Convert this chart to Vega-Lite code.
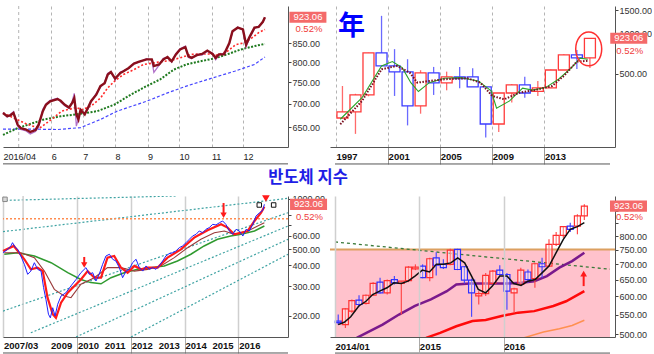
{
"$schema":"https://vega.github.io/schema/vega-lite/v6.json",
"background":"white",
"padding":{"left":-2,"top":5,"right":0,"bottom":0},
"config":{"view":{"stroke":null},"axis":{"labelFont":"Liberation Sans","labelOverlap":false}},
"datasets":{
"tl":[{"d":"2016-04-16","p":680,"q":681},{"d":"2016-04-20","p":673,"q":671},{"d":"2016-04-23","p":675,"q":677},{"d":"2016-04-26","p":680,"q":683},{"d":"2016-04-30","p":655,"q":652},{"d":"2016-05-03","p":648,"q":645},{"d":"2016-05-08","p":645,"q":642},{"d":"2016-05-12","p":640,"q":636},{"d":"2016-05-17","p":644,"q":641},{"d":"2016-05-20","p":655,"q":650},{"d":"2016-05-24","p":684,"q":688},{"d":"2016-05-27","p":698,"q":700},{"d":"2016-05-31","p":706,"q":708},{"d":"2016-06-07","p":711,"q":713},{"d":"2016-06-10","p":707,"q":705},{"d":"2016-06-14","p":698,"q":696},{"d":"2016-06-18","p":692,"q":690},{"d":"2016-06-21","p":702,"q":705},{"d":"2016-06-23","p":713,"q":724},{"d":"2016-06-25","p":677,"q":652},{"d":"2016-06-27","p":666,"q":668},{"d":"2016-06-29","p":687,"q":684},{"d":"2016-07-03","p":677,"q":680},{"d":"2016-07-06","p":691,"q":688},{"d":"2016-07-09","p":706,"q":704},{"d":"2016-07-14","p":721,"q":724},{"d":"2016-07-18","p":741,"q":738},{"d":"2016-07-22","p":748,"q":750},{"d":"2016-07-25","p":769,"q":772},{"d":"2016-07-28","p":775,"q":776},{"d":"2016-08-01","p":759,"q":756},{"d":"2016-08-06","p":773,"q":775},{"d":"2016-08-09","p":777,"q":778},{"d":"2016-08-14","p":785,"q":784},{"d":"2016-08-19","p":796,"q":797},{"d":"2016-08-24","p":801,"q":800},{"d":"2016-08-31","p":807,"q":809},{"d":"2016-09-05","p":807,"q":805},{"d":"2016-09-07","p":790,"q":774},{"d":"2016-09-12","p":794,"q":792},{"d":"2016-09-16","p":807,"q":810},{"d":"2016-09-20","p":813,"q":812},{"d":"2016-09-24","p":802,"q":800},{"d":"2016-09-28","p":820,"q":822},{"d":"2016-10-02","p":833,"q":835},{"d":"2016-10-07","p":839,"q":842},{"d":"2016-10-10","p":815,"q":812},{"d":"2016-10-13","p":811,"q":809},{"d":"2016-10-18","p":818,"q":820},{"d":"2016-10-23","p":821,"q":818},{"d":"2016-10-28","p":830,"q":828},{"d":"2016-11-02","p":821,"q":823},{"d":"2016-11-05","p":811,"q":806},{"d":"2016-11-08","p":820,"q":818},{"d":"2016-11-13","p":820,"q":823},{"d":"2016-11-18","p":850,"q":848},{"d":"2016-11-21","p":883,"q":880},{"d":"2016-11-26","p":893,"q":895},{"d":"2016-12-01","p":888,"q":886},{"d":"2016-12-04","p":846,"q":840},{"d":"2016-12-07","p":865,"q":862},{"d":"2016-12-12","p":893,"q":890},{"d":"2016-12-16","p":895,"q":898},{"d":"2016-12-20","p":910,"q":908},{"d":"2016-12-22","p":923.06,"q":923.06}],
"tl_r":[{"d":"2016-04-16","v":680},{"d":"2016-05-10","v":655},{"d":"2016-05-21","v":648},{"d":"2016-06-03","v":669},{"d":"2016-06-11","v":684},{"d":"2016-06-25","v":692},{"d":"2016-06-30","v":687},{"d":"2016-07-09","v":695},{"d":"2016-07-18","v":713},{"d":"2016-07-25","v":737},{"d":"2016-08-01","v":754},{"d":"2016-08-09","v":769},{"d":"2016-08-19","v":781},{"d":"2016-08-28","v":794},{"d":"2016-09-07","v":798},{"d":"2016-09-16","v":802},{"d":"2016-09-23","v":804},{"d":"2016-10-02","v":811},{"d":"2016-10-12","v":820},{"d":"2016-10-21","v":821},{"d":"2016-10-31","v":821},{"d":"2016-11-06","v":818},{"d":"2016-11-16","v":828},{"d":"2016-11-24","v":846},{"d":"2016-12-01","v":850},{"d":"2016-12-09","v":863},{"d":"2016-12-16","v":879},{"d":"2016-12-22","v":888}],
"tl_g":[{"d":"2016-04-16","v":634},{"d":"2016-04-30","v":648},{"d":"2016-05-25","v":666},{"d":"2016-06-10","v":673},{"d":"2016-06-25","v":677},{"d":"2016-07-15","v":684},{"d":"2016-07-31","v":698},{"d":"2016-08-16","v":721},{"d":"2016-08-31","v":741},{"d":"2016-09-13","v":757},{"d":"2016-09-26","v":781},{"d":"2016-10-08","v":794},{"d":"2016-10-21","v":802},{"d":"2016-11-03","v":809},{"d":"2016-11-16","v":820},{"d":"2016-11-29","v":833},{"d":"2016-12-12","v":842},{"d":"2016-12-22","v":848}],
"tl_b":[{"d":"2016-04-16","v":646},{"d":"2016-05-10","v":646},{"d":"2016-06-07","v":645},{"d":"2016-06-29","v":649},{"d":"2016-07-18","v":666},{"d":"2016-08-03","v":684},{"d":"2016-08-31","v":706},{"d":"2016-09-20","v":725},{"d":"2016-10-08","v":741},{"d":"2016-10-31","v":759},{"d":"2016-11-23","v":777},{"d":"2016-12-12","v":794},{"d":"2016-12-22","v":813}],
"tl_gr":[{"d":"2016-05-01"}],
"tr":[{"d":"1997-07-01","o":234,"h":406,"l":230,"c":260},{"d":"1998-07-01","o":260,"h":355,"l":178,"c":348},{"d":"1999-07-01","o":348,"h":720,"l":340,"c":718},{"d":"2000-07-01","o":718,"h":1359,"l":574,"c":574},{"d":"2001-07-01","o":574,"h":766,"l":342,"c":517},{"d":"2002-07-01","o":517,"h":644,"l":206,"c":288},{"d":"2003-07-01","o":288,"h":533,"l":252,"c":509},{"d":"2004-07-01","o":509,"h":564,"l":348,"c":428},{"d":"2005-07-01","o":428,"h":520,"l":377,"c":475},{"d":"2006-07-01","o":475,"h":564,"l":391,"c":462},{"d":"2007-07-01","o":475,"h":552,"l":400,"c":400},{"d":"2008-07-01","o":400,"h":400,"l":167,"c":211},{"d":"2009-07-01","o":211,"h":360,"l":184,"c":360},{"d":"2010-07-01","o":360,"h":420,"l":305,"c":414},{"d":"2011-07-01","o":414,"h":477,"l":332,"c":360},{"d":"2012-07-01","o":370,"h":443,"l":342,"c":393},{"d":"2013-07-01","o":393,"h":540,"l":390,"c":535},{"d":"2014-07-01","o":535,"h":700,"l":535,"c":693},{"d":"2015-07-01","o":693,"h":756,"l":545,"c":659},{"d":"2016-07-01","o":659,"h":923.06,"l":553,"c":923.06}],
"tr_g":[{"d":"1997-05-01","v":229},{"d":"1999-01-01","v":332},{"d":"2000-07-01","v":574},{"d":"2001-05-01","v":618},{"d":"2002-02-01","v":557},{"d":"2002-10-01","v":430},{"d":"2003-05-01","v":369},{"d":"2004-03-01","v":430},{"d":"2005-05-01","v":464},{"d":"2006-08-01","v":469},{"d":"2007-12-01","v":443},{"d":"2008-12-01","v":373},{"d":"2009-05-01","v":277},{"d":"2010-05-01","v":314},{"d":"2011-05-01","v":391},{"d":"2012-02-01","v":378},{"d":"2013-02-01","v":395},{"d":"2014-02-01","v":456},{"d":"2015-02-01","v":557},{"d":"2015-10-01","v":656},{"d":"2016-05-01","v":644}],
"tr_m":[{"d":"1997-05-01","v":210},{"d":"1999-01-01","v":314},{"d":"2000-07-01","v":541},{"d":"2001-09-01","v":574},{"d":"2002-09-01","v":511},{"d":"2003-04-01","v":430},{"d":"2004-03-01","v":443},{"d":"2005-05-01","v":456},{"d":"2007-02-01","v":464},{"d":"2008-02-01","v":430},{"d":"2009-01-01","v":342},{"d":"2009-12-01","v":323},{"d":"2011-02-01","v":362},{"d":"2012-04-01","v":378},{"d":"2013-08-01","v":406},{"d":"2014-07-01","v":483},{"d":"2015-07-01","v":618},{"d":"2016-05-01","v":626}],
"bl":[{"d":"2007-04-03","v":476},{"d":"2007-06-05","v":498},{"d":"2007-07-20","v":522},{"d":"2007-08-10","v":546},{"d":"2007-09-12","v":515},{"d":"2007-10-20","v":498},{"d":"2007-12-01","v":455},{"d":"2008-01-18","v":406},{"d":"2008-03-03","v":354},{"d":"2008-04-15","v":370},{"d":"2008-06-02","v":415},{"d":"2008-07-16","v":379},{"d":"2008-09-01","v":370},{"d":"2008-10-05","v":295},{"d":"2008-11-06","v":251},{"d":"2008-12-10","v":205},{"d":"2009-01-05","v":195},{"d":"2009-02-06","v":224},{"d":"2009-03-10","v":200},{"d":"2009-04-15","v":235},{"d":"2009-05-30","v":263},{"d":"2009-08-04","v":275},{"d":"2009-10-12","v":302},{"d":"2009-12-20","v":330},{"d":"2010-02-24","v":362},{"d":"2010-05-04","v":388},{"d":"2010-06-17","v":354},{"d":"2010-08-03","v":362},{"d":"2010-09-16","v":323},{"d":"2010-10-30","v":354},{"d":"2010-12-16","v":406},{"d":"2011-01-30","v":455},{"d":"2011-03-18","v":466},{"d":"2011-05-01","v":435},{"d":"2011-06-14","v":425},{"d":"2011-07-31","v":388},{"d":"2011-09-13","v":338},{"d":"2011-10-30","v":370},{"d":"2011-12-13","v":379},{"d":"2012-01-26","v":415},{"d":"2012-03-14","v":435},{"d":"2012-04-27","v":388},{"d":"2012-06-13","v":370},{"d":"2012-07-27","v":397},{"d":"2012-09-09","v":379},{"d":"2012-10-26","v":388},{"d":"2012-12-09","v":379},{"d":"2013-01-22","v":397},{"d":"2013-03-10","v":425},{"d":"2013-04-23","v":455},{"d":"2013-06-06","v":470},{"d":"2013-07-23","v":476},{"d":"2013-09-05","v":487},{"d":"2013-10-22","v":510},{"d":"2013-12-05","v":522},{"d":"2014-01-22","v":546},{"d":"2014-03-07","v":572},{"d":"2014-04-20","v":598},{"d":"2014-06-06","v":612},{"d":"2014-07-20","v":641},{"d":"2014-09-05","v":626},{"d":"2014-10-19","v":656},{"d":"2014-12-02","v":671},{"d":"2015-01-19","v":702},{"d":"2015-03-04","v":696},{"d":"2015-04-20","v":718},{"d":"2015-06-03","v":735},{"d":"2015-07-16","v":702},{"d":"2015-09-02","v":641},{"d":"2015-10-16","v":612},{"d":"2015-12-02","v":656},{"d":"2016-01-15","v":641},{"d":"2016-03-03","v":598},{"d":"2016-04-16","v":656},{"d":"2016-05-30","v":641},{"d":"2016-07-16","v":702},{"d":"2016-08-29","v":787},{"d":"2016-10-16","v":823},{"d":"2016-11-29","v":851},{"d":"2016-12-20","v":923.06}],
"bl_r":[{"d":"2007-04-03","v":487},{"d":"2007-08-28","v":522},{"d":"2008-01-18","v":435},{"d":"2008-04-15","v":379},{"d":"2008-07-16","v":388},{"d":"2008-09-24","v":370},{"d":"2008-11-28","v":257},{"d":"2009-02-06","v":205},{"d":"2009-03-22","v":195},{"d":"2009-05-30","v":240},{"d":"2009-08-29","v":275},{"d":"2010-02-24","v":330},{"d":"2010-05-26","v":370},{"d":"2010-08-25","v":338},{"d":"2010-11-24","v":338},{"d":"2011-02-20","v":445},{"d":"2011-05-22","v":455},{"d":"2011-08-21","v":388},{"d":"2011-11-20","v":362},{"d":"2012-02-20","v":397},{"d":"2012-05-22","v":379},{"d":"2012-08-18","v":388},{"d":"2013-01-01","v":388},{"d":"2013-05-15","v":445},{"d":"2013-11-13","v":498},{"d":"2014-05-12","v":585},{"d":"2014-11-10","v":647},{"d":"2015-05-12","v":702},{"d":"2015-08-08","v":671},{"d":"2015-11-07","v":612},{"d":"2016-02-06","v":626},{"d":"2016-05-08","v":641},{"d":"2016-08-08","v":735},{"d":"2016-11-06","v":823},{"d":"2016-12-20","v":893}],
"bl_b":[{"d":"2007-04-20","v":476},{"d":"2007-12-01","v":476},{"d":"2008-06-02","v":445},{"d":"2008-10-16","v":370},{"d":"2009-02-28","v":288},{"d":"2009-07-12","v":263},{"d":"2009-10-12","v":257},{"d":"2010-02-24","v":309},{"d":"2010-08-25","v":338},{"d":"2011-02-20","v":388},{"d":"2011-08-21","v":388},{"d":"2012-02-20","v":370},{"d":"2012-08-18","v":379},{"d":"2013-02-13","v":397},{"d":"2013-08-15","v":445},{"d":"2014-02-13","v":510},{"d":"2014-08-11","v":572},{"d":"2015-02-10","v":626},{"d":"2015-06-25","v":641},{"d":"2015-11-07","v":612},{"d":"2016-05-08","v":641},{"d":"2016-09-20","v":686},{"d":"2016-12-20","v":718}],
"bl_g":[{"d":"2007-04-20","v":466},{"d":"2007-10-20","v":476},{"d":"2008-06-02","v":455},{"d":"2009-01-15","v":415},{"d":"2009-08-29","v":362},{"d":"2010-02-24","v":330},{"d":"2010-07-08","v":316},{"d":"2010-11-24","v":311},{"d":"2011-04-08","v":338},{"d":"2011-10-05","v":362},{"d":"2012-04-05","v":379},{"d":"2012-10-05","v":388},{"d":"2013-04-01","v":397},{"d":"2013-09-27","v":425},{"d":"2014-03-28","v":466},{"d":"2014-09-24","v":522},{"d":"2015-03-25","v":572},{"d":"2015-09-20","v":598},{"d":"2016-02-06","v":612},{"d":"2016-08-08","v":641},{"d":"2016-12-20","v":686}],
"bl_ch":[{"g":1,"d":"2007-05-10","v":975},{"g":1,"d":"2013-09-05","v":1035},{"g":2,"d":"2007-04-03","v":635},{"g":2,"d":"2017-11-06","v":1003},{"g":3,"d":"2007-04-03","v":214},{"g":3,"d":"2017-11-06","v":823},{"g":4,"d":"2008-04-15","v":159},{"g":4,"d":"2017-11-06","v":686},{"g":5,"d":"2009-12-20","v":150},{"g":5,"d":"2017-11-06","v":572},{"g":6,"d":"2012-01-05","v":150},{"g":6,"d":"2017-11-06","v":466}],
"bl_arr":[{"d":"2010-04-10","a":449,"b":402},{"d":"2015-06-15","a":940,"b":795}],
"bl_sq":[{"d":"2016-10-12","v":915},{"d":"2017-04-25","v":915}],
"bl_gr":[{"d":"2008-01-01"}],
"bl_lab":[{"d":"2007-04-03","t":"2007/03"},{"d":"2009-01-01","t":"2009"},{"d":"2010-01-01","t":"2010"},{"d":"2011-01-01","t":"2011"},{"d":"2012-01-01","t":"2012"},{"d":"2013-01-01","t":"2013"},{"d":"2014-01-01","t":"2014"},{"d":"2015-01-01","t":"2015"},{"d":"2016-01-01","t":"2016"}],
"br":[{"d":"2014-01-15","o":533,"h":550,"l":524,"c":529},{"d":"2014-02-15","o":524,"h":567,"l":516,"c":565},{"d":"2014-03-15","o":559,"h":591,"l":555,"c":588},{"d":"2014-04-15","o":589,"h":603,"l":571,"c":577},{"d":"2014-05-15","o":580,"h":605,"l":577,"c":603},{"d":"2014-06-15","o":603,"h":642,"l":601,"c":638},{"d":"2014-07-15","o":642,"h":656,"l":608,"c":610},{"d":"2014-08-15","o":610,"h":650,"l":605,"c":647},{"d":"2014-09-15","o":650,"h":661,"l":635,"c":640},{"d":"2014-10-15","o":638,"h":645,"l":550,"c":645},{"d":"2014-11-15","o":647,"h":693,"l":642,"c":690},{"d":"2014-12-15","o":684,"h":699,"l":680,"c":690},{"d":"2015-01-15","o":693,"h":699,"l":654,"c":656},{"d":"2015-02-15","o":656,"h":721,"l":645,"c":718},{"d":"2015-03-15","o":721,"h":741,"l":663,"c":696},{"d":"2015-04-15","o":699,"h":716,"l":684,"c":688},{"d":"2015-05-15","o":699,"h":753,"l":696,"c":748},{"d":"2015-06-15","o":751,"h":753,"l":680,"c":682},{"d":"2015-07-15","o":691,"h":693,"l":638,"c":648},{"d":"2015-08-15","o":648,"h":653,"l":544,"c":610},{"d":"2015-09-15","o":601,"h":615,"l":577,"c":608},{"d":"2015-10-15","o":608,"h":671,"l":601,"c":663},{"d":"2015-11-15","o":638,"h":680,"l":635,"c":677},{"d":"2015-12-15","o":680,"h":696,"l":663,"c":666},{"d":"2016-01-15","o":666,"h":671,"l":563,"c":615},{"d":"2016-02-15","o":610,"h":625,"l":555,"c":622},{"d":"2016-03-15","o":635,"h":688,"l":630,"c":680},{"d":"2016-04-15","o":674,"h":682,"l":640,"c":650},{"d":"2016-05-15","o":653,"h":704,"l":625,"c":701},{"d":"2016-06-15","o":701,"h":721,"l":656,"c":691},{"d":"2016-07-15","o":693,"h":788,"l":691,"c":769},{"d":"2016-08-15","o":769,"h":816,"l":763,"c":803},{"d":"2016-09-15","o":803,"h":839,"l":794,"c":837},{"d":"2016-10-15","o":839,"h":853,"l":816,"c":826},{"d":"2016-11-15","o":839,"h":888,"l":807,"c":881},{"d":"2016-12-15","o":881,"h":931,"l":864,"c":923.06}],
"br_k":[{"d":"2014-01-15","v":524},{"d":"2014-02-10","v":530},{"d":"2014-03-10","v":544},{"d":"2014-04-14","v":573},{"d":"2014-05-15","v":586},{"d":"2014-06-13","v":605},{"d":"2014-07-13","v":615},{"d":"2014-08-14","v":625},{"d":"2014-09-13","v":640},{"d":"2014-10-15","v":638},{"d":"2014-11-13","v":645},{"d":"2014-12-13","v":661},{"d":"2015-01-14","v":680},{"d":"2015-02-14","v":674},{"d":"2015-03-16","v":699},{"d":"2015-04-15","v":699},{"d":"2015-05-17","v":704},{"d":"2015-06-16","v":721},{"d":"2015-07-16","v":704},{"d":"2015-08-15","v":661},{"d":"2015-09-13","v":620},{"d":"2015-10-15","v":610},{"d":"2015-11-13","v":630},{"d":"2015-12-15","v":661},{"d":"2016-01-15","v":661},{"d":"2016-02-13","v":638},{"d":"2016-03-16","v":632},{"d":"2016-04-15","v":645},{"d":"2016-05-16","v":650},{"d":"2016-06-15","v":671},{"d":"2016-07-15","v":693},{"d":"2016-08-15","v":739},{"d":"2016-09-15","v":788},{"d":"2016-10-15","v":826},{"d":"2016-11-15","v":837},{"d":"2016-12-15","v":853}],
"br_p":[{"d":"2014-04-05","v":492},{"d":"2014-05-17","v":504},{"d":"2014-07-26","v":524},{"d":"2014-10-05","v":550},{"d":"2014-12-13","v":573},{"d":"2015-02-20","v":591},{"d":"2015-04-30","v":615},{"d":"2015-06-10","v":635},{"d":"2015-08-07","v":638},{"d":"2015-11-26","v":638},{"d":"2016-01-19","v":638},{"d":"2016-03-16","v":640},{"d":"2016-05-12","v":645},{"d":"2016-07-06","v":661},{"d":"2016-08-29","v":688},{"d":"2016-10-23","v":710},{"d":"2016-12-15","v":739}],
"br_r":[{"d":"2015-01-30","v":492},{"d":"2015-04-01","v":504},{"d":"2015-06-10","v":520},{"d":"2015-08-19","v":533},{"d":"2015-10-15","v":536},{"d":"2015-12-23","v":546},{"d":"2016-03-03","v":555},{"d":"2016-05-12","v":559},{"d":"2016-08-03","v":573},{"d":"2016-09-27","v":586},{"d":"2016-12-15","v":615}],
"br_o":[{"d":"2016-03-28","v":492},{"d":"2016-06-21","v":506},{"d":"2016-08-29","v":514},{"d":"2016-10-23","v":522},{"d":"2016-12-15","v":535}],
"br_gd":[{"d":"2014-01-01","v":778},{"d":"2017-04-05","v":683}],
"br_arr":[{"d":"2016-12-12","a":630,"b":669}]
},
"concat":[
{"width":285,"height":141,"layer":[
{"data":{"name":"tl_gr"},"mark":{"type":"rule","color":"#b4b4b4","strokeDash":[3,3]},"encoding":{
"x":{"field":"d","type":"temporal","scale":{"type":"utc","domain":[{"year":2016,"month":4,"date":16,"utc":true},{"year":2017,"month":1,"date":13,"utc":true}],"nice":false},
"axis":{"title":null,"values":[{"year":2016,"month":4,"date":16,"utc":true},{"year":2016,"month":6,"date":1,"utc":true},{"year":2016,"month":7,"date":1,"utc":true},{"year":2016,"month":8,"date":1,"utc":true},{"year":2016,"month":9,"date":1,"utc":true},{"year":2016,"month":10,"date":1,"utc":true},{"year":2016,"month":11,"date":1,"utc":true},{"year":2016,"month":12,"date":1,"utc":true}],"labelExpr":"utcmonth(datum.value)==3 ? '2016/04' : '' + (utcmonth(datum.value)+1)","grid":true,"gridColor":"#b4b4b4","gridDash":[3,3],"gridOpacity":{"condition":{"test":"utcmonth(datum.value)==3","value":0},"value":1},"ticks":false,"domainColor":"#555","labelAlign":"left","labelBaseline":"top","labelPadding":5,"labelDx":1,"labelFlush":false,"labelOverlap":false,"labelFontSize":9,"labelColor":"#222"}}}},
{"data":{"name":"tl_b"},"mark":{"type":"line","color":"#4545ff","strokeWidth":1.2,"strokeDash":[3,2]},"encoding":{
"x":{"field":"d","type":"temporal","scale":{"type":"utc","domain":[{"year":2016,"month":4,"date":16,"utc":true},{"year":2017,"month":1,"date":13,"utc":true}],"nice":false}},
"y":{"field":"v","type":"quantitative","scale":{"type":"log","domain":[610,957],"nice":false},
"axis":{"title":null,"orient":"right","values":[650,700,750,800,850],"format":".2f","grid":false,"tickSize":3,"tickColor":"#444","domainColor":"#555","labelPadding":1,"labelFontSize":9,"labelColor":"#333","labelOverlap":false,"labelFlush":false}}}},
{"data":{"name":"tl_g"},"mark":{"type":"line","color":"#1f7a1f","strokeWidth":2,"strokeDash":[2,1.5]},"encoding":{"x":{"field":"d","type":"temporal","scale":{"type":"utc","domain":[{"year":2016,"month":4,"date":16,"utc":true},{"year":2017,"month":1,"date":13,"utc":true}],"nice":false}},"y":{"field":"v","type":"quantitative","scale":{"type":"log","domain":[610,957],"nice":false}}}},
{"data":{"name":"tl_r"},"mark":{"type":"line","color":"#ff2a2a","strokeWidth":1.6,"strokeDash":[2,2]},"encoding":{"x":{"field":"d","type":"temporal","scale":{"type":"utc","domain":[{"year":2016,"month":4,"date":16,"utc":true},{"year":2017,"month":1,"date":13,"utc":true}],"nice":false}},"y":{"field":"v","type":"quantitative","scale":{"type":"log","domain":[610,957],"nice":false}}}},
{"data":{"name":"tl"},"mark":{"type":"line","color":"#b070c8","strokeWidth":1.3},"encoding":{"x":{"field":"d","type":"temporal","scale":{"type":"utc","domain":[{"year":2016,"month":4,"date":16,"utc":true},{"year":2017,"month":1,"date":13,"utc":true}],"nice":false}},"y":{"field":"q","type":"quantitative","scale":{"type":"log","domain":[610,957],"nice":false}}}},
{"data":{"name":"tl"},"mark":{"type":"line","color":"#8a0f1c","strokeWidth":2.4},"encoding":{"x":{"field":"d","type":"temporal","scale":{"type":"utc","domain":[{"year":2016,"month":4,"date":16,"utc":true},{"year":2017,"month":1,"date":13,"utc":true}],"nice":false}},"y":{"field":"p","type":"quantitative","scale":{"type":"log","domain":[610,957],"nice":false}}}},
{"data":{"values":[{}]},"mark":{"type":"rule","color":"#555","strokeWidth":1,"clip":false},"encoding":{"x":{"datum":{"year":2016,"month":4,"date":16,"utc":true},"type":"temporal","scale":{"type":"utc","domain":[{"year":2016,"month":4,"date":16,"utc":true},{"year":2017,"month":1,"date":13,"utc":true}],"nice":false}},"x2":{"datum":{"year":2017,"month":1,"date":13,"utc":true}},"y":{"datum":578,"type":"quantitative","scale":{"type":"log","domain":[610,957],"nice":false}}}},
{"data":{"values":[{}]},"mark":{"type":"point","shape":"M-1,-0.3L1,-0.3L1,0.3L-1,0.3Z","filled":true,"color":"#f46a6a","opacity":1,"size":1369,"strokeWidth":0,"clip":false},"encoding":{"x":{"datum":{"year":2017,"month":2,"date":1,"utc":true},"type":"temporal","scale":{"type":"utc","domain":[{"year":2016,"month":4,"date":16,"utc":true},{"year":2017,"month":1,"date":13,"utc":true}],"nice":false}},"y":{"datum":923.06,"type":"quantitative","scale":{"type":"log","domain":[610,957],"nice":false}}}},
{"data":{"values":[{}]},"mark":{"type":"text","text":"923.06","color":"white","font":"Liberation Sans","fontSize":9.5,"clip":false},"encoding":{"x":{"datum":{"year":2017,"month":2,"date":1,"utc":true},"type":"temporal","scale":{"type":"utc","domain":[{"year":2016,"month":4,"date":16,"utc":true},{"year":2017,"month":1,"date":13,"utc":true}],"nice":false}},"y":{"datum":923.06,"type":"quantitative","scale":{"type":"log","domain":[610,957],"nice":false}}}},
{"data":{"values":[{}]},"mark":{"type":"text","text":"0.52%","color":"#f03c3c","font":"Liberation Sans","fontSize":9.5,"dy":12,"dx":1,"clip":false},"encoding":{"x":{"datum":{"year":2017,"month":2,"date":1,"utc":true},"type":"temporal","scale":{"type":"utc","domain":[{"year":2016,"month":4,"date":16,"utc":true},{"year":2017,"month":1,"date":13,"utc":true}],"nice":false}},"y":{"datum":923.06,"type":"quantitative","scale":{"type":"log","domain":[610,957],"nice":false}}}}
]},
{"width":285,"height":141,"layer":[
{"data":{"name":"tr"},"mark":{"type":"rule","strokeWidth":1.3},"encoding":{
"x":{"field":"d","type":"temporal","scale":{"type":"utc","domain":[{"year":1996,"month":12,"date":4,"utc":true},{"year":2018,"month":1,"date":15,"utc":true}],"nice":false},
"axis":{"title":null,"values":[{"year":1997,"month":1,"date":1,"utc":true},{"year":2001,"month":1,"date":1,"utc":true},{"year":2005,"month":1,"date":1,"utc":true},{"year":2009,"month":1,"date":1,"utc":true},{"year":2013,"month":1,"date":1,"utc":true}],"labelExpr":"utcFormat(datum.value,'%Y')","grid":true,"gridColor":"#b4b4b4","gridDash":[3,3],"ticks":true,"tickSize":17,"tickColor":"#999","tickOpacity":{"condition":{"test":"utcyear(datum.value)==1997","value":0},"value":1},"domainColor":"#555","labelAlign":"left","labelBaseline":"top","labelPadding":-13,"labelDx":1,"labelFlush":false,"labelOverlap":false,"labelFontSize":9.5,"labelFontWeight":"bold","labelColor":"#111"}},
"y":{"field":"l","type":"quantitative","scale":{"type":"log","domain":[142,1610],"nice":false},
"axis":{"title":null,"orient":"right","values":[500,1000,1500],"format":".2f","grid":false,"tickSize":3,"tickColor":"#444","domainColor":"#555","labelPadding":1,"labelFontSize":9,"labelColor":"#333","labelOverlap":false,"labelFlush":false}},
"y2":{"field":"h"},
"color":{"condition":{"test":"datum.c >= datum.o","value":"#ff6a6a"},"value":"#6a6aff"}}},
{"data":{"name":"tr"},"mark":{"type":"bar","width":11,"fill":"white","strokeWidth":1.3},"encoding":{"x":{"field":"d","type":"temporal","scale":{"type":"utc","domain":[{"year":1996,"month":12,"date":4,"utc":true},{"year":2018,"month":1,"date":15,"utc":true}],"nice":false}},"y":{"field":"o","type":"quantitative","scale":{"type":"log","domain":[142,1610],"nice":false}},"y2":{"field":"c"},"stroke":{"condition":{"test":"datum.c >= datum.o","value":"#ff3b3b"},"value":"#3b3bff"}}},
{"data":{"name":"tr_g"},"mark":{"type":"line","color":"#2aa52a","strokeWidth":1.1},"encoding":{"x":{"field":"d","type":"temporal","scale":{"type":"utc","domain":[{"year":1996,"month":12,"date":4,"utc":true},{"year":2018,"month":1,"date":15,"utc":true}],"nice":false}},"y":{"field":"v","type":"quantitative","scale":{"type":"log","domain":[142,1610],"nice":false}}}},
{"data":{"name":"tr_m"},"mark":{"type":"line","color":"#7a1020","strokeWidth":2,"strokeDash":[1.5,1.5]},"encoding":{"x":{"field":"d","type":"temporal","scale":{"type":"utc","domain":[{"year":1996,"month":12,"date":4,"utc":true},{"year":2018,"month":1,"date":15,"utc":true}],"nice":false}},"y":{"field":"v","type":"quantitative","scale":{"type":"log","domain":[142,1610],"nice":false}}}},
{"data":{"values":[{}]},"mark":{"type":"point","shape":"M0,-1.3A1,1.3,0,1,1,0,1.3A1,1.3,0,1,1,0,-1.3Z","filled":false,"color":"#ff3030","strokeWidth":1.5,"opacity":1,"size":676},"encoding":{"x":{"datum":{"year":2016,"month":5,"date":28,"utc":true},"type":"temporal","scale":{"type":"utc","domain":[{"year":1996,"month":12,"date":4,"utc":true},{"year":2018,"month":1,"date":15,"utc":true}],"nice":false}},"y":{"datum":769,"type":"quantitative","scale":{"type":"log","domain":[142,1610],"nice":false}}}},
{"data":{"values":[{}]},"mark":{"type":"text","text":"年","color":"#0000ff","font":"Noto Sans CJK JP","fontSize":27,"fontWeight":"bold","baseline":"middle"},"encoding":{"x":{"datum":{"year":1998,"month":3,"date":10,"utc":true},"type":"temporal","scale":{"type":"utc","domain":[{"year":1996,"month":12,"date":4,"utc":true},{"year":2018,"month":1,"date":15,"utc":true}],"nice":false}},"y":{"datum":1121,"type":"quantitative","scale":{"type":"log","domain":[142,1610],"nice":false}}}},
{"data":{"values":[{}]},"mark":{"type":"rule","color":"#555","strokeWidth":1,"clip":false},"encoding":{"x":{"datum":{"year":1996,"month":12,"date":4,"utc":true},"type":"temporal","scale":{"type":"utc","domain":[{"year":1996,"month":12,"date":4,"utc":true},{"year":2018,"month":1,"date":15,"utc":true}],"nice":false}},"x2":{"datum":{"year":2018,"month":1,"date":15,"utc":true}},"y":{"datum":106,"type":"quantitative","scale":{"type":"log","domain":[142,1610],"nice":false}}}},
{"data":{"values":[{}]},"mark":{"type":"point","shape":"M-1,-0.3L1,-0.3L1,0.3L-1,0.3Z","filled":true,"color":"#f46a6a","opacity":1,"size":1369,"strokeWidth":0,"clip":false},"encoding":{"x":{"datum":{"year":2019,"month":6,"date":25,"utc":true},"type":"temporal","scale":{"type":"utc","domain":[{"year":1996,"month":12,"date":4,"utc":true},{"year":2018,"month":1,"date":15,"utc":true}],"nice":false}},"y":{"datum":923.06,"type":"quantitative","scale":{"type":"log","domain":[142,1610],"nice":false}}}},
{"data":{"values":[{}]},"mark":{"type":"text","text":"923.06","color":"white","font":"Liberation Sans","fontSize":9.5,"clip":false},"encoding":{"x":{"datum":{"year":2019,"month":6,"date":25,"utc":true},"type":"temporal","scale":{"type":"utc","domain":[{"year":1996,"month":12,"date":4,"utc":true},{"year":2018,"month":1,"date":15,"utc":true}],"nice":false}},"y":{"datum":923.06,"type":"quantitative","scale":{"type":"log","domain":[142,1610],"nice":false}}}},
{"data":{"values":[{}]},"mark":{"type":"text","text":"0.52%","color":"#f03c3c","font":"Liberation Sans","fontSize":9.5,"dy":13,"dx":1,"clip":false},"encoding":{"x":{"datum":{"year":2019,"month":6,"date":25,"utc":true},"type":"temporal","scale":{"type":"utc","domain":[{"year":1996,"month":12,"date":4,"utc":true},{"year":2018,"month":1,"date":15,"utc":true}],"nice":false}},"y":{"datum":923.06,"type":"quantitative","scale":{"type":"log","domain":[142,1610],"nice":false}}}}
]},
{"width":285,"height":141,"layer":[
{"data":{"name":"bl_ch"},"mark":{"type":"line","color":"#3fa3a3","strokeWidth":1.2,"strokeDash":[2,2],"clip":true},"encoding":{
"x":{"field":"d","type":"temporal","scale":{"type":"utc","domain":[{"year":2007,"month":4,"date":3,"utc":true},{"year":2017,"month":11,"date":6,"utc":true}],"nice":false},
"axis":{"title":null,"values":[{"year":2007,"month":4,"date":3,"utc":true},{"year":2009,"month":1,"date":1,"utc":true},{"year":2010,"month":1,"date":1,"utc":true},{"year":2011,"month":1,"date":1,"utc":true},{"year":2012,"month":1,"date":1,"utc":true},{"year":2013,"month":1,"date":1,"utc":true},{"year":2014,"month":1,"date":1,"utc":true},{"year":2015,"month":1,"date":1,"utc":true},{"year":2016,"month":1,"date":1,"utc":true}],"labels":false,"grid":true,"gridColor":"#cfcfcf","gridWidth":1.5,"ticks":true,"tickSize":16,"tickColor":"#aaa","tickOpacity":{"condition":{"test":"utcyear(datum.value)<2009","value":0},"value":1},"domainColor":"#555"}},
"y":{"field":"v","type":"quantitative","scale":{"type":"log","domain":[150,1035],"nice":false},
"axis":{"title":null,"orient":"right","values":[200,300,400,500,600,700,800,1000],"labelExpr":"datum.value==700 || datum.value==800 ? '' : format(datum.value,'.2f')","grid":false,"tickSize":3,"tickColor":"#444","domainColor":"#555","labelPadding":1,"labelFontSize":9,"labelColor":"#333","labelOverlap":false,"labelFlush":false}},
"detail":{"field":"g"}}},
{"data":{"name":"bl_gr"},"mark":{"type":"rule","color":"#cfcfcf","strokeWidth":1.5},"encoding":{"x":{"field":"d","type":"temporal","scale":{"type":"utc","domain":[{"year":2007,"month":4,"date":3,"utc":true},{"year":2017,"month":11,"date":6,"utc":true}],"nice":false}}}},
{"data":{"name":"bl_lab"},"mark":{"type":"text","font":"Liberation Sans","fontSize":9.5,"fontWeight":"bold","color":"#111","align":"left","baseline":"middle","dx":1,"clip":false},"encoding":{"x":{"field":"d","type":"temporal","scale":{"type":"utc","domain":[{"year":2007,"month":4,"date":3,"utc":true},{"year":2017,"month":11,"date":6,"utc":true}],"nice":false}},"y":{"datum":133,"type":"quantitative","scale":{"type":"log","domain":[150,1035],"nice":false}},"text":{"field":"t"}}},
{"data":{"values":[{}]},"mark":{"type":"rule","color":"#ff8c50","strokeWidth":1.3,"strokeDash":[2,2]},"encoding":{"y":{"datum":758,"type":"quantitative","scale":{"type":"log","domain":[150,1035],"nice":false}}}},
{"data":{"name":"bl_g"},"mark":{"type":"line","color":"#2f9a2f","strokeWidth":1.5},"encoding":{"x":{"field":"d","type":"temporal","scale":{"type":"utc","domain":[{"year":2007,"month":4,"date":3,"utc":true},{"year":2017,"month":11,"date":6,"utc":true}],"nice":false}},"y":{"field":"v","type":"quantitative","scale":{"type":"log","domain":[150,1035],"nice":false}}}},
{"data":{"name":"bl_b"},"mark":{"type":"line","color":"#9a3a3a","strokeWidth":1.1},"encoding":{"x":{"field":"d","type":"temporal","scale":{"type":"utc","domain":[{"year":2007,"month":4,"date":3,"utc":true},{"year":2017,"month":11,"date":6,"utc":true}],"nice":false}},"y":{"field":"v","type":"quantitative","scale":{"type":"log","domain":[150,1035],"nice":false}}}},
{"data":{"name":"bl_r"},"mark":{"type":"line","color":"#ff1a1a","strokeWidth":2.2},"encoding":{"x":{"field":"d","type":"temporal","scale":{"type":"utc","domain":[{"year":2007,"month":4,"date":3,"utc":true},{"year":2017,"month":11,"date":6,"utc":true}],"nice":false}},"y":{"field":"v","type":"quantitative","scale":{"type":"log","domain":[150,1035],"nice":false}}}},
{"data":{"name":"bl"},"mark":{"type":"line","color":"#1f1fff","strokeWidth":1},"encoding":{"x":{"field":"d","type":"temporal","scale":{"type":"utc","domain":[{"year":2007,"month":4,"date":3,"utc":true},{"year":2017,"month":11,"date":6,"utc":true}],"nice":false}},"y":{"field":"v","type":"quantitative","scale":{"type":"log","domain":[150,1035],"nice":false}}}},
{"data":{"name":"bl_arr"},"mark":{"type":"rule","color":"#ff1a1a","strokeWidth":2},"encoding":{"x":{"field":"d","type":"temporal","scale":{"type":"utc","domain":[{"year":2007,"month":4,"date":3,"utc":true},{"year":2017,"month":11,"date":6,"utc":true}],"nice":false}},"y":{"field":"a","type":"quantitative","scale":{"type":"log","domain":[150,1035],"nice":false}},"y2":{"field":"b"}}},
{"data":{"name":"bl_arr"},"mark":{"type":"point","shape":"triangle-down","filled":true,"color":"#ff1a1a","opacity":1,"size":40},"encoding":{"x":{"field":"d","type":"temporal","scale":{"type":"utc","domain":[{"year":2007,"month":4,"date":3,"utc":true},{"year":2017,"month":11,"date":6,"utc":true}],"nice":false}},"y":{"field":"b","type":"quantitative","scale":{"type":"log","domain":[150,1035],"nice":false}}}},
{"data":{"values":[{}]},"mark":{"type":"point","shape":"triangle-down","filled":true,"color":"#ff1a1a","opacity":1,"size":60,"clip":false},"encoding":{"x":{"datum":{"year":2017,"month":1,"date":10,"utc":true},"type":"temporal","scale":{"type":"utc","domain":[{"year":2007,"month":4,"date":3,"utc":true},{"year":2017,"month":11,"date":6,"utc":true}],"nice":false}},"y":{"datum":1000,"type":"quantitative","scale":{"type":"log","domain":[150,1035],"nice":false}}}},
{"data":{"name":"bl_sq"},"mark":{"type":"point","shape":"square","filled":true,"fill":"white","stroke":"#111","strokeWidth":1,"opacity":1,"size":20},"encoding":{"x":{"field":"d","type":"temporal","scale":{"type":"utc","domain":[{"year":2007,"month":4,"date":3,"utc":true},{"year":2017,"month":11,"date":6,"utc":true}],"nice":false}},"y":{"field":"v","type":"quantitative","scale":{"type":"log","domain":[150,1035],"nice":false}}}},
{"data":{"values":[{}]},"mark":{"type":"point","shape":"square","filled":true,"fill":"#d8d8d8","stroke":"#888","strokeWidth":1,"opacity":1,"size":20},"encoding":{"x":{"datum":{"year":2007,"month":4,"date":30,"utc":true},"type":"temporal","scale":{"type":"utc","domain":[{"year":2007,"month":4,"date":3,"utc":true},{"year":2017,"month":11,"date":6,"utc":true}],"nice":false}},"y":{"datum":989,"type":"quantitative","scale":{"type":"log","domain":[150,1035],"nice":false}}}},
{"data":{"values":[{}]},"mark":{"type":"rule","color":"#555","strokeWidth":1,"clip":false},"encoding":{"x":{"datum":{"year":2007,"month":4,"date":3,"utc":true},"type":"temporal","scale":{"type":"utc","domain":[{"year":2007,"month":4,"date":3,"utc":true},{"year":2017,"month":11,"date":6,"utc":true}],"nice":false}},"x2":{"datum":{"year":2017,"month":11,"date":6,"utc":true}},"y":{"datum":120.5,"type":"quantitative","scale":{"type":"log","domain":[150,1035],"nice":false}}}},
{"data":{"values":[{}]},"mark":{"type":"point","shape":"M-1,-0.3L1,-0.3L1,0.3L-1,0.3Z","filled":true,"color":"#f46a6a","opacity":1,"size":1369,"strokeWidth":0,"clip":false},"encoding":{"x":{"datum":{"year":2018,"month":8,"date":12,"utc":true},"type":"temporal","scale":{"type":"utc","domain":[{"year":2007,"month":4,"date":3,"utc":true},{"year":2017,"month":11,"date":6,"utc":true}],"nice":false}},"y":{"datum":923.06,"type":"quantitative","scale":{"type":"log","domain":[150,1035],"nice":false}}}},
{"data":{"values":[{}]},"mark":{"type":"text","text":"923.06","color":"white","font":"Liberation Sans","fontSize":9.5,"clip":false},"encoding":{"x":{"datum":{"year":2018,"month":8,"date":12,"utc":true},"type":"temporal","scale":{"type":"utc","domain":[{"year":2007,"month":4,"date":3,"utc":true},{"year":2017,"month":11,"date":6,"utc":true}],"nice":false}},"y":{"datum":923.06,"type":"quantitative","scale":{"type":"log","domain":[150,1035],"nice":false}}}},
{"data":{"values":[{}]},"mark":{"type":"text","text":"0.52%","color":"#f03c3c","font":"Liberation Sans","fontSize":9.5,"dy":13,"dx":1,"clip":false},"encoding":{"x":{"datum":{"year":2018,"month":8,"date":12,"utc":true},"type":"temporal","scale":{"type":"utc","domain":[{"year":2007,"month":4,"date":3,"utc":true},{"year":2017,"month":11,"date":6,"utc":true}],"nice":false}},"y":{"datum":923.06,"type":"quantitative","scale":{"type":"log","domain":[150,1035],"nice":false}}}},
{"data":{"values":[{}]},"mark":{"type":"text","text":"반도체 지수","color":"#1e1ee6","font":"Noto Sans CJK KR","fontSize":16.5,"fontWeight":"bold","align":"center","baseline":"middle","clip":false},"encoding":{"x":{"datum":{"year":2018,"month":8,"date":5,"utc":true},"type":"temporal","scale":{"type":"utc","domain":[{"year":2007,"month":4,"date":3,"utc":true},{"year":2017,"month":11,"date":6,"utc":true}],"nice":false}},"y":{"datum":1324,"type":"quantitative","scale":{"type":"log","domain":[150,1035],"nice":false}}}}
]},
{"width":285,"height":141,"layer":[
{"data":{"values":[{}]},"mark":{"type":"rect","color":"#ffc2cc"},"encoding":{
"x":{"datum":{"year":2014,"month":1,"date":1,"utc":true},"type":"temporal","scale":{"type":"utc","domain":[{"year":2014,"month":1,"date":1,"utc":true},{"year":2017,"month":4,"date":5,"utc":true}],"nice":false},
"axis":{"title":null,"zindex":1,"values":[{"year":2014,"month":1,"date":1,"utc":true},{"year":2015,"month":1,"date":1,"utc":true},{"year":2016,"month":1,"date":1,"utc":true}],"labelExpr":"utcyear(datum.value)==2014 ? '2014/01' : utcFormat(datum.value,'%Y')","grid":true,"gridColor":"#cfcfcf","gridWidth":1.5,"ticks":true,"tickSize":16,"tickColor":"#aaa","tickOpacity":{"condition":{"test":"utcyear(datum.value)==2014","value":0},"value":1},"domainColor":"#555","labelAlign":"left","labelBaseline":"top","labelPadding":-12,"labelDx":1,"labelFlush":false,"labelOverlap":false,"labelFontSize":9.5,"labelFontWeight":"bold","labelColor":"#111"}},
"x2":{"datum":{"year":2017,"month":4,"date":5,"utc":true}},
"y":{"datum":750,"type":"quantitative","scale":{"type":"log","domain":[494,969],"nice":false},
"axis":{"title":null,"orient":"right","values":[500,550,600,650,700,750,800,850,900],"labelExpr":"datum.value>=850 ? '' : format(datum.value,'.2f')","grid":false,"tickSize":3,"tickColor":"#444","domainColor":"#555","labelPadding":1,"labelFontSize":9,"labelColor":"#333","labelOverlap":false,"labelFlush":false}},
"y2":{"datum":494}}},
{"data":{"values":[{}]},"mark":{"type":"rule","color":"#dca060","strokeWidth":2},"encoding":{"y":{"datum":750,"type":"quantitative","scale":{"type":"log","domain":[494,969],"nice":false}}}},
{"data":{"name":"br_gd"},"mark":{"type":"line","color":"#3a7a3a","strokeWidth":1.3,"strokeDash":[3,3]},"encoding":{"x":{"field":"d","type":"temporal","scale":{"type":"utc","domain":[{"year":2014,"month":1,"date":1,"utc":true},{"year":2017,"month":4,"date":5,"utc":true}],"nice":false}},"y":{"field":"v","type":"quantitative","scale":{"type":"log","domain":[494,969],"nice":false}}}},
{"data":{"name":"br_o"},"mark":{"type":"line","color":"#ff9050","strokeWidth":1.5,"clip":true},"encoding":{"x":{"field":"d","type":"temporal","scale":{"type":"utc","domain":[{"year":2014,"month":1,"date":1,"utc":true},{"year":2017,"month":4,"date":5,"utc":true}],"nice":false}},"y":{"field":"v","type":"quantitative","scale":{"type":"log","domain":[494,969],"nice":false}}}},
{"data":{"name":"br_r"},"mark":{"type":"line","color":"#ff0a0a","strokeWidth":2.5,"clip":true},"encoding":{"x":{"field":"d","type":"temporal","scale":{"type":"utc","domain":[{"year":2014,"month":1,"date":1,"utc":true},{"year":2017,"month":4,"date":5,"utc":true}],"nice":false}},"y":{"field":"v","type":"quantitative","scale":{"type":"log","domain":[494,969],"nice":false}}}},
{"data":{"name":"br_p"},"mark":{"type":"line","color":"#7a1a8c","strokeWidth":2.5,"clip":true},"encoding":{"x":{"field":"d","type":"temporal","scale":{"type":"utc","domain":[{"year":2014,"month":1,"date":1,"utc":true},{"year":2017,"month":4,"date":5,"utc":true}],"nice":false}},"y":{"field":"v","type":"quantitative","scale":{"type":"log","domain":[494,969],"nice":false}}}},
{"data":{"name":"br"},"mark":{"type":"rule","strokeWidth":1.2},"encoding":{"x":{"field":"d","type":"temporal","scale":{"type":"utc","domain":[{"year":2014,"month":1,"date":1,"utc":true},{"year":2017,"month":4,"date":5,"utc":true}],"nice":false}},"y":{"field":"l","type":"quantitative","scale":{"type":"log","domain":[494,969],"nice":false}},"y2":{"field":"h"},"color":{"condition":{"test":"datum.c >= datum.o","value":"#ff4a4a"},"value":"#4a4aff"}}},
{"data":{"name":"br"},"mark":{"type":"bar","width":6,"fill":"white","fillOpacity":0.35,"strokeWidth":1.2},"encoding":{"x":{"field":"d","type":"temporal","scale":{"type":"utc","domain":[{"year":2014,"month":1,"date":1,"utc":true},{"year":2017,"month":4,"date":5,"utc":true}],"nice":false}},"y":{"field":"o","type":"quantitative","scale":{"type":"log","domain":[494,969],"nice":false}},"y2":{"field":"c"},"stroke":{"condition":{"test":"datum.c >= datum.o","value":"#ff3030"},"value":"#3030ff"}}},
{"data":{"name":"br_k"},"mark":{"type":"line","color":"#111","strokeWidth":1.5},"encoding":{"x":{"field":"d","type":"temporal","scale":{"type":"utc","domain":[{"year":2014,"month":1,"date":1,"utc":true},{"year":2017,"month":4,"date":5,"utc":true}],"nice":false}},"y":{"field":"v","type":"quantitative","scale":{"type":"log","domain":[494,969],"nice":false}}}},
{"data":{"name":"br_arr"},"mark":{"type":"rule","color":"#ff1a1a","strokeWidth":2},"encoding":{"x":{"field":"d","type":"temporal","scale":{"type":"utc","domain":[{"year":2014,"month":1,"date":1,"utc":true},{"year":2017,"month":4,"date":5,"utc":true}],"nice":false}},"y":{"field":"a","type":"quantitative","scale":{"type":"log","domain":[494,969],"nice":false}},"y2":{"field":"b"}}},
{"data":{"name":"br_arr"},"mark":{"type":"point","shape":"triangle-up","filled":true,"color":"#ff1a1a","opacity":1,"size":45},"encoding":{"x":{"field":"d","type":"temporal","scale":{"type":"utc","domain":[{"year":2014,"month":1,"date":1,"utc":true},{"year":2017,"month":4,"date":5,"utc":true}],"nice":false}},"y":{"field":"b","type":"quantitative","scale":{"type":"log","domain":[494,969],"nice":false}}}},
{"data":{"values":[{}]},"mark":{"type":"rule","color":"#555","strokeWidth":1,"clip":false},"encoding":{"x":{"datum":{"year":2014,"month":1,"date":1,"utc":true},"type":"temporal","scale":{"type":"utc","domain":[{"year":2014,"month":1,"date":1,"utc":true},{"year":2017,"month":4,"date":5,"utc":true}],"nice":false}},"x2":{"datum":{"year":2017,"month":4,"date":5,"utc":true}},"y":{"datum":457.5,"type":"quantitative","scale":{"type":"log","domain":[494,969],"nice":false}}}},
{"data":{"values":[{}]},"mark":{"type":"point","shape":"M-1,-0.3L1,-0.3L1,0.3L-1,0.3Z","filled":true,"color":"#f46a6a","opacity":1,"size":1369,"strokeWidth":0,"clip":false},"encoding":{"x":{"datum":{"year":2017,"month":6,"date":24,"utc":true},"type":"temporal","scale":{"type":"utc","domain":[{"year":2014,"month":1,"date":1,"utc":true},{"year":2017,"month":4,"date":5,"utc":true}],"nice":false}},"y":{"datum":923.06,"type":"quantitative","scale":{"type":"log","domain":[494,969],"nice":false}}}},
{"data":{"values":[{}]},"mark":{"type":"text","text":"923.06","color":"white","font":"Liberation Sans","fontSize":9.5,"clip":false},"encoding":{"x":{"datum":{"year":2017,"month":6,"date":24,"utc":true},"type":"temporal","scale":{"type":"utc","domain":[{"year":2014,"month":1,"date":1,"utc":true},{"year":2017,"month":4,"date":5,"utc":true}],"nice":false}},"y":{"datum":923.06,"type":"quantitative","scale":{"type":"log","domain":[494,969],"nice":false}}}},
{"data":{"values":[{}]},"mark":{"type":"text","text":"0.52%","color":"#f03c3c","font":"Liberation Sans","fontSize":9.5,"dy":11,"dx":1,"clip":false},"encoding":{"x":{"datum":{"year":2017,"month":6,"date":24,"utc":true},"type":"temporal","scale":{"type":"utc","domain":[{"year":2014,"month":1,"date":1,"utc":true},{"year":2017,"month":4,"date":5,"utc":true}],"nice":false}},"y":{"datum":923.06,"type":"quantitative","scale":{"type":"log","domain":[494,969],"nice":false}}}}
]}
],
"columns":2,
"spacing":{"row":49,"column":42},
"bounds":"flush"
}
